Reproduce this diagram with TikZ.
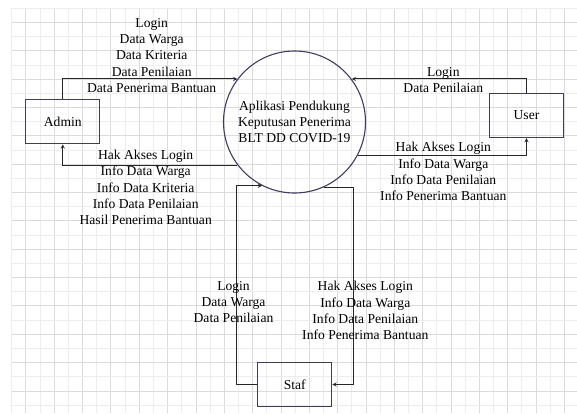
\documentclass[tikz,border=0pt]{standalone}
\usepackage{fontspec}
\setmainfont{Liberation Serif}
\usepackage{tikz}
\usetikzlibrary{arrows,positioning}
\definecolor{boxline}{HTML}{3E3E5C}

\begin{document}
\begin{tikzpicture}[
  x=1pt, y=-1pt, >=stealth,
  font=\fontsize{13.6}{16.3}\selectfont,
  gridminor/.style={draw=black!7, line width=0.8pt},
  gridmajor/.style={draw=black!14, line width=0.8pt},
  ent/.style={rectangle, draw=boxline, line width=1.1pt,
              minimum width=74pt, minimum height=44pt, inner sep=0pt},
  proc/.style={circle, draw=boxline, line width=1.1pt, minimum size=142pt,
               align=center, inner sep=0pt},
  arr/.style={->, draw=black!85, line width=0.9pt},
  lab/.style={align=center, inner sep=0pt}
]
\useasboundingbox[fill=white] (0,0) rectangle (577,413);

%% grid
\foreach \k in {0,...,39} {
  \pgfmathsetmacro{\gx}{11.7+14.17*\k}
  \ifodd\k \draw[gridmajor] (\gx,8.3) -- (\gx,413);
  \else \draw[gridminor] (\gx,8.3) -- (\gx,413); \fi
}
\foreach \k in {0,...,28} {
  \pgfmathsetmacro{\gy}{8.3+14.17*\k}
  \ifodd\k \draw[gridmajor] (11.7,\gy) -- (577,\gy);
  \else \draw[gridminor] (11.7,\gy) -- (577,\gy); \fi
}

%% process and entities
\node[proc] (app) at (294.5,122) {Aplikasi Pendukung\\Keputusan Penerima\\BLT DD COVID-19};
\node[ent] (admin) at (62.8,121.8) {Admin};
\node[ent] (user) at (526.5,115.5) {User};
\node[ent] (staf) at (294.8,384.5) {Staf};

\coordinate (stafL) at (236,384.5);
\coordinate (stafR) at (353,384.5);

%% flows
\draw[arr] (admin.north) |- (app.143);
\draw[arr] (app.217) -| (admin.south);
\draw[arr] (user.north) |- (app.37);
\draw[arr] (app.332) -| (user.south);
\draw[arr] (staf.west) -- (stafL) |- (app.243);
\draw[arr] (app.294) -| (stafR) -- (staf.east);

%% flow labels
\node[lab] (adminIn) at (151.7,55.5) {Login\\Data Warga\\Data Kriteria\\Data Penilaian\\Data Penerima Bantuan};
\node[lab] (adminOut) at (145.7,187.5) {Hak Akses Login\\Info Data Warga\\Info Data Kriteria\\Info Data Penilaian\\Hasil Penerima Bantuan};
\node[lab] (userIn) at (443.3,80) {Login\\Data Penilaian};
\node[lab] (userOut) at (443.3,171.5) {Hak Akses Login\\Info Data Warga\\Info Data Penilaian\\Info Penerima Bantuan};
\node[lab] (stafIn) at (233.5,302) {Login\\Data Warga\\Data Penilaian};
\node[lab] (stafOut) at (365.3,310.5) {Hak Akses Login\\Info Data Warga\\Info Data Penilaian\\Info Penerima Bantuan};
\end{tikzpicture}
\end{document}
